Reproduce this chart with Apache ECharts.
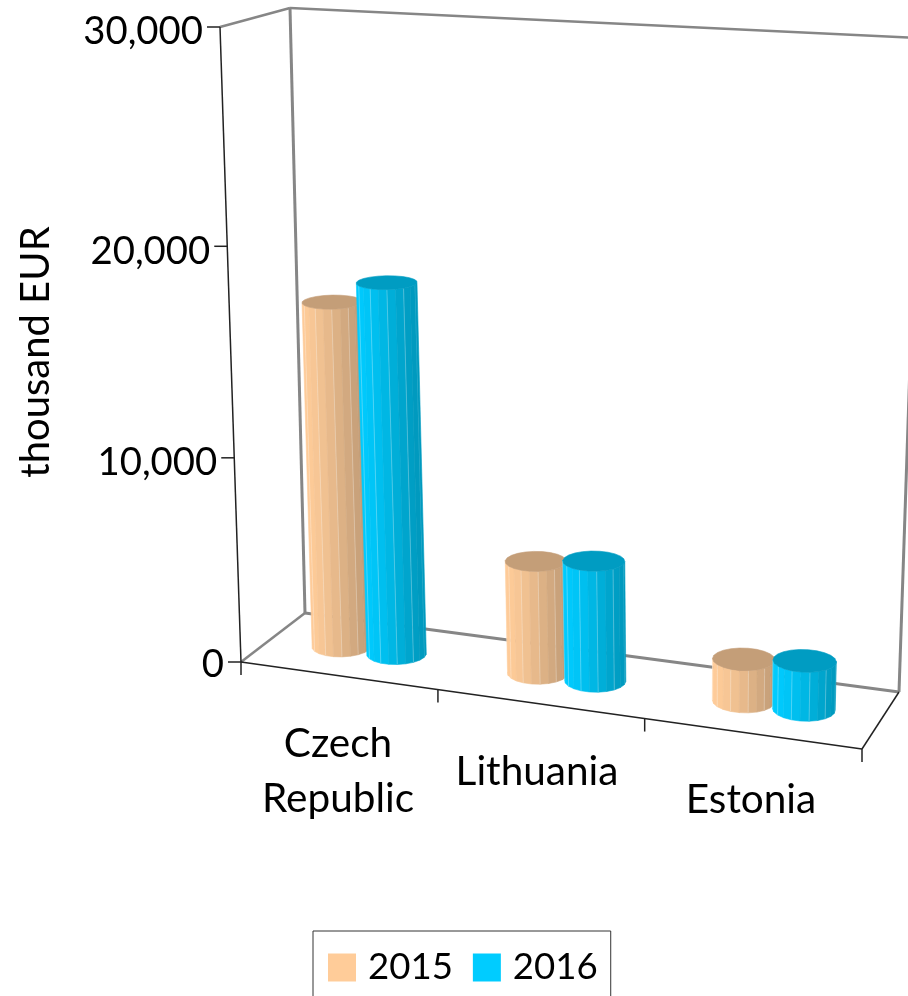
<!DOCTYPE html>
<html>
<head>
<meta charset="utf-8">
<style>html,body{margin:0;padding:0;background:#fff;overflow:hidden}#chart{width:908px;height:996px}</style>
<script src="https://cdn.jsdelivr.net/npm/echarts@6/dist/echarts.min.js"></script>
</head>
<body>
<div id="chart"></div>
<script>
// data
var categories = ['Czech\nRepublic', 'Lithuania', 'Estonia'];
var values2015 = [16900, 5450, 2000];
var values2016 = [18050, 5800, 2300];
var yTicks = [0, 10000, 20000, 30000];
var yMax = 30000;

var W = 908, H = 996;
var FONT = 'Lato';

// box corners on screen: u along categories, w into depth
var floorQuad = [[241, 662], [862, 749], [899, 692], [305, 613]];
var ceilQuad = [[220, 27], [883, 62], [921, 38], [290, 8]];
var vK = 1.055;

function squareToQuad(q) {
    var dx1 = q[1][0] - q[2][0], dx2 = q[3][0] - q[2][0], sx = q[0][0] - q[1][0] + q[2][0] - q[3][0];
    var dy1 = q[1][1] - q[2][1], dy2 = q[3][1] - q[2][1], sy = q[0][1] - q[1][1] + q[2][1] - q[3][1];
    var den = dx1 * dy2 - dx2 * dy1;
    var g = (sx * dy2 - dx2 * sy) / den, h = (dx1 * sy - sx * dy1) / den;
    var a = q[1][0] - q[0][0] + g * q[1][0], b = q[3][0] - q[0][0] + h * q[3][0];
    var d = q[1][1] - q[0][1] + g * q[1][1], e = q[3][1] - q[0][1] + h * q[3][1];
    return function (u, w) {
        var s = g * u + h * w + 1;
        return [(a * u + b * w + q[0][0]) / s, (d * u + e * w + q[0][1]) / s];
    };
}
var floorAt = squareToQuad(floorQuad), ceilAt = squareToQuad(ceilQuad);

function project(u, v, w) {
    var t = v / (v + vK * (1 - v));
    var p0 = floorAt(u, w), p1 = ceilAt(u, w);
    return [p0[0] + (p1[0] - p0[0]) * t, p0[1] + (p1[1] - p0[1]) * t];
}

// grid pixels (axes fill the whole canvas) to box coordinates
function toUV(pt) {
    return [pt[0] / W, (H - pt[1]) / H];
}

function mix(a, b, f) {
    return 'rgb(' + a.map(function (c, i) { return Math.round(c + (b[i] - c) * f); }).join(',') + ')';
}

function line(p, q, color, width) {
    return { type: 'line', silent: true, shape: { x1: p[0], y1: p[1], x2: q[0], y2: q[1] }, style: { stroke: color, lineWidth: width } };
}

function label(x, y, text, align, size) {
    return { type: 'text', silent: true, x: x, y: y, style: { text: text, fill: '#000', font: size + 'px ' + FONT, lineHeight: 55, align: align, verticalAlign: 'middle' } };
}

function renderFrame(params, api) {
    if (params.dataIndex > 0) return;
    var grey = '#868686', dark = '#222';
    var kids = [
        line(project(0, 0, 1), project(0, 1, 1), grey, 3),
        line(project(0, 1, 0), project(0, 1, 1), grey, 2.5),
        line(project(0, 1, 1), project(1, 1, 1), grey, 2.5),
        line(project(1, 0, 1), project(1, 1, 1), grey, 3),
        line(project(0, 0, 0), project(0, 0, 1), grey, 2.5),
        line(project(0, 0, 1), project(1, 0, 1), grey, 3),
        line(project(0, 0, 0), project(0, 1, 0), dark, 1.5),
        line(project(0, 0, 0), project(1, 0, 0), dark, 1.5),
        line(project(1, 0, 0), project(1, 0, 1), dark, 1.5)
    ];
    yTicks.forEach(function (tick) {
        var v = toUV(api.coord([0, tick]))[1];
        var p = project(0, v, 0);
        kids.push(line([p[0] - 13, p[1]], p, dark, 1.5));
        kids.push(label(p[0] - 17, p[1] + (tick ? 5 : 3), echarts.format.addCommas(tick), 'right', 38.3));
    });
    var band = api.size([1, 0])[0] / W;
    for (var i = 0; i <= categories.length; i++) {
        var p = project(i * band, 0, 0);
        kids.push(line(p, [p[0], p[1] + 13], dark, 1.5));
    }
    var labelPos = [[338, 771], [537, 772], [751, 800]];
    categories.forEach(function (c, i) {
        kids.push(label(labelPos[i][0], labelPos[i][1], c, 'center', 40.5));
    });
    kids.push({
        type: 'text', silent: true, x: 36, y: 352, rotation: Math.PI / 2,
        style: { text: 'thousand EUR', fill: '#000', font: '40px ' + FONT, align: 'center', verticalAlign: 'middle' }
    });
    return { type: 'group', children: kids };
}

var SIDES = 22, RW = 0.2;

function cylinder(side, light, dark, topColor) {
    return function (params, api) {
        var pt = api.coord([api.value(0), api.value(1)]);
        var band = api.size([1, 0])[0] / W;
        var uv = toUV(pt);
        var r = band * 0.142;
        var uc = uv[0] + side * r, wc = 0.5;
        var kids = [], top = [], ringV = uv[1];
        function at(a, v) {
            return project(uc + r * Math.cos(a), v, wc + RW * Math.sin(a));
        }
        for (var i = 0; i < SIDES; i++) {
            var a0 = i / SIDES * 2 * Math.PI, a1 = (i + 1) / SIDES * 2 * Math.PI;
            top.push(at(a0, ringV));
            var p = [at(a0, 0), at(a1, 0), at(a1, ringV), at(a0, ringV)];
            var area = 0;
            p.forEach(function (c, k) {
                var n = p[(k + 1) % 4];
                area += c[0] * n[1] - n[0] * c[1];
            });
            if (area >= 0) continue;
            var f = Math.pow((Math.cos((a0 + a1) / 2) + 1) / 2, 2);
            var fill = mix(light, dark, f);
            kids.push({ type: 'polygon', silent: true, shape: { points: p }, style: { fill: fill, stroke: fill, lineWidth: 0.6 } });
            if (i % 2 === 0) {
                kids.push(line(p[0], p[3], 'rgba(255,255,255,0.35)', 0.8));
            }
        }
        kids.push({ type: 'polygon', silent: true, shape: { points: top }, style: { fill: topColor, stroke: topColor, lineWidth: 0.6 } });
        return { type: 'group', children: kids };
    };
}

function toData(values) {
    return values.map(function (v, i) { return [i, v]; });
}

var myChart = echarts.init(document.getElementById('chart'), null, { renderer: 'canvas' });
option = {
    animation: false,
    backgroundColor: '#fff',
    textStyle: { fontFamily: FONT },
    grid: { left: 0, right: 0, top: 0, bottom: 0 },
    xAxis: { type: 'category', data: categories, show: false },
    yAxis: { type: 'value', min: 0, max: yMax, interval: 10000, show: false },
    legend: {
        data: ['2015', '2016'],
        left: 313,
        top: 931,
        padding: [18, 13, 30, 15],
        borderColor: '#333',
        borderWidth: 1,
        icon: 'rect',
        itemWidth: 28,
        itemHeight: 28,
        itemGap: 20,
        selectedMode: false,
        textStyle: { fontSize: 36.6, color: '#000', fontFamily: FONT, padding: [0, 0, 0, 7] }
    },
    series: [
        { type: 'custom', name: 'frame', silent: true, renderItem: renderFrame, data: [[0, 0]], z: 1 },
        {
            type: 'custom', name: '2015', renderItem: cylinder(-1, [255, 204, 153], [196, 158, 120], '#C49E78'),
            itemStyle: { color: '#FFCC99' }, data: toData(values2015), z: 2
        },
        {
            type: 'custom', name: '2016', renderItem: cylinder(1, [0, 204, 255], [0, 153, 190], '#009CC2'),
            itemStyle: { color: '#00CCFF' }, data: toData(values2016), z: 3
        }
    ]
};
myChart.setOption(option);
</script>
</body>
</html>
